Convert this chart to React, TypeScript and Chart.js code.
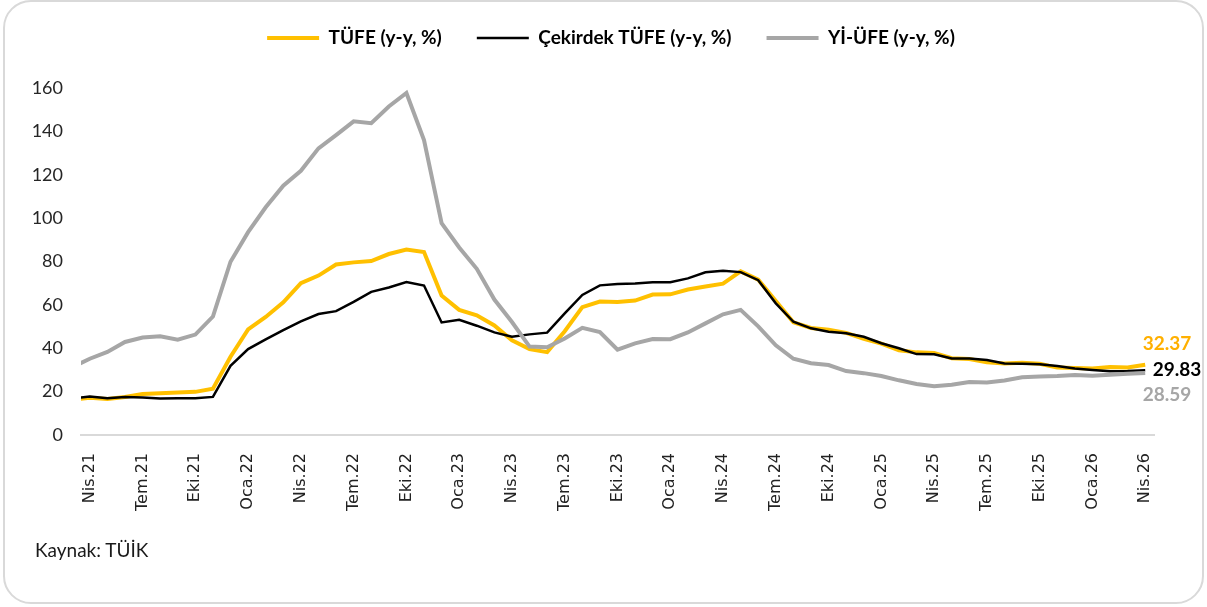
import React, { useEffect, useRef } from "react";
import { Chart, registerables } from "chart.js";

Chart.register(...registerables);

// Months (first entry Mar.21 is a lead-in point clipped at the left edge)
const months: string[] = [
  "Mar.21", "Nis.21", "May.21", "Haz.21", "Tem.21", "Ağu.21", "Eyl.21", "Eki.21", "Kas.21", "Ara.21",
  "Oca.22", "Şub.22", "Mar.22", "Nis.22", "May.22", "Haz.22", "Tem.22", "Ağu.22", "Eyl.22", "Eki.22", "Kas.22", "Ara.22",
  "Oca.23", "Şub.23", "Mar.23", "Nis.23", "May.23", "Haz.23", "Tem.23", "Ağu.23", "Eyl.23", "Eki.23", "Kas.23", "Ara.23",
  "Oca.24", "Şub.24", "Mar.24", "Nis.24", "May.24", "Haz.24", "Tem.24", "Ağu.24", "Eyl.24", "Eki.24", "Kas.24", "Ara.24",
  "Oca.25", "Şub.25", "Mar.25", "Nis.25", "May.25", "Haz.25", "Tem.25", "Ağu.25", "Eyl.25", "Eki.25", "Kas.25", "Ara.25",
  "Oca.26", "Şub.26", "Mar.26", "Nis.26",
];

const tickLabels: string[] = [
  "Nis.21", "Tem.21", "Eki.21", "Oca.22", "Nis.22", "Tem.22", "Eki.22", "Oca.23", "Nis.23", "Tem.23",
  "Eki.23", "Oca.24", "Nis.24", "Tem.24", "Eki.24", "Oca.25", "Nis.25", "Tem.25", "Eki.25", "Oca.26", "Nis.26",
];

const tufe: number[] = [
  16.19,
  17.14, 16.59, 17.53, 18.95, 19.25, 19.58, 19.89, 21.31, 36.08,
  48.69, 54.44, 61.14, 69.97, 73.5, 78.62, 79.6, 80.21, 83.45, 85.51, 84.39, 64.27,
  57.68, 55.18, 50.51, 43.68, 39.59, 38.21, 47.83, 58.94, 61.53, 61.36, 61.98, 64.77,
  64.86, 67.07, 68.5, 69.8, 75.45, 71.6, 61.78, 51.97, 49.38, 48.58, 47.09, 44.38,
  42.12, 39.05, 38.1, 37.86, 35.41, 35.05, 33.52, 32.95, 33.29, 32.87, 31.07, 30.89,
  30.65, 31.4, 31.1, 32.37,
];

const cekirdek: number[] = [
  16.8,
  17.8, 16.9, 17.5, 17.3, 16.8, 16.98, 16.9, 17.58, 31.88,
  39.6, 44.1, 48.4, 52.4, 55.8, 57.1, 61.4, 66.0, 68.0, 70.5, 68.9, 51.9,
  53.1, 50.4, 47.3, 45.3, 46.4, 47.2, 56.1, 64.6, 69.0, 69.6, 69.9, 70.4,
  70.4, 72.2, 75.0, 75.7, 75.1, 71.4, 60.7, 52.2, 49.2, 47.6, 46.9, 45.3,
  42.3, 40.0, 37.3, 37.2, 35.3, 35.3, 34.6, 33.0, 32.8, 32.6, 31.8, 30.7,
  30.0, 29.4, 29.5, 29.83,
];

const yiufe: number[] = [
  31.2,
  35.17, 38.33, 42.89, 44.92, 45.52, 43.96, 46.31, 54.62, 79.89,
  93.53, 105.01, 114.97, 121.82, 132.16, 138.31, 144.61, 143.75, 151.5, 157.69, 136.02, 97.72,
  86.46, 76.61, 62.45, 52.11, 40.76, 40.42, 44.5, 49.41, 47.44, 39.39, 42.25, 44.22,
  44.2, 47.29, 51.47, 55.66, 57.68, 50.09, 41.37, 35.17, 33.09, 32.24, 29.47, 28.52,
  27.2, 25.21, 23.5, 22.5, 23.13, 24.45, 24.19, 25.16, 26.59, 27.0, 27.23, 27.67,
  27.3, 27.8, 28.2, 28.59,
];

const seriesNames: string[] = ["TÜFE (y-y, %)", "Çekirdek TÜFE (y-y, %)", "Yİ-ÜFE (y-y, %)"];

const COLORS = { tufe: "#FFC000", cekirdek: "#000000", yiufe: "#A6A6A6" };
const LABEL_COLORS = ["#FFB000", "#000000", "#A6A6A6"];
const LABEL_OFFSETS = [
  { dx: -2.5, dy: -21 },
  { dx: 7.5, dy: 0 },
  { dx: -2.5, dy: 22 },
];

const toPoints = (vals: number[]) => vals.map((v, i) => ({ x: i - 1, y: v }));

const LEGEND_FONT = 19;
const LEGEND_PAD = 35;
const LEGEND_CENTER_Y = 38;
const PLOT_TOP = 88;
const PLOT_LEFT = 81;
const PLOT_RIGHT = 1154;

const endLabels = {
  id: "endLabels",
  afterDatasetsDraw(chart: any) {
    const ctx = chart.ctx;
    ctx.save();
    ctx.font = "bold 19px Lato";
    ctx.textAlign = "left";
    ctx.textBaseline = "middle";
    chart.data.datasets.forEach((ds: any, i: number) => {
      const meta = chart.getDatasetMeta(i);
      const pt = meta.data[meta.data.length - 1];
      const val = ds.data[ds.data.length - 1].y as number;
      ctx.fillStyle = LABEL_COLORS[i];
      ctx.fillText(val.toFixed(2), pt.x + LABEL_OFFSETS[i].dx, pt.y + LABEL_OFFSETS[i].dy);
    });
    ctx.restore();
  },
};

const legendPlace = {
  id: "legendPlace",
  beforeInit(chart: any) {
    const lg = chart.legend;
    if (!lg) return;
    const orig = lg.fit;
    lg.fit = function fit() {
      orig.call(this);
      // reserve space so that the plot area starts at PLOT_TOP
      this.height = PLOT_TOP;
    };
  },
  afterLayout(chart: any) {
    const lg = chart.legend;
    if (!lg) return;
    lg.left = 68;
    lg.right = PLOT_RIGHT;
    lg.top = LEGEND_CENTER_Y - LEGEND_PAD - LEGEND_FONT / 2;
  },
};

export default function App() {
  const ref = useRef<HTMLCanvasElement>(null);

  useEffect(() => {
    if (!ref.current) return;
    const chart = new Chart(ref.current, {
      type: "line",
      data: {
        datasets: [
          {
            label: seriesNames[0],
            data: toPoints(tufe),
            borderColor: COLORS.tufe,
            backgroundColor: COLORS.tufe,
            borderWidth: 4,
            pointRadius: 0,
            tension: 0,
            clip: 0,
            order: 3,
          },
          {
            label: seriesNames[1],
            data: toPoints(cekirdek),
            borderColor: COLORS.cekirdek,
            backgroundColor: COLORS.cekirdek,
            borderWidth: 2.5,
            pointRadius: 0,
            tension: 0,
            clip: 0,
            order: 2,
          },
          {
            label: seriesNames[2],
            data: toPoints(yiufe),
            borderColor: COLORS.yiufe,
            backgroundColor: COLORS.yiufe,
            borderWidth: 4,
            pointRadius: 0,
            tension: 0,
            clip: 0,
            order: 1,
          },
        ],
      } as any,
      plugins: [endLabels, legendPlace],
      options: {
        animation: false,
        responsive: false,
        devicePixelRatio: 1,
        events: [],
        layout: { padding: { left: 0, right: 1207 - PLOT_RIGHT, top: 0, bottom: 0 } },
        plugins: {
          tooltip: { enabled: false },
          legend: {
            display: true,
            position: "top",
            labels: {
              usePointStyle: true,
              pointStyle: "line",
              pointStyleWidth: 52,
              padding: LEGEND_PAD,
              color: "#000000",
              font: { family: "Lato", size: LEGEND_FONT, weight: "bold" },
              sort: (a: any, b: any) => a.datasetIndex - b.datasetIndex,
            },
          },
        },
        scales: {
          x: {
            type: "linear",
            min: -0.5,
            max: 60.5,
            grid: { display: false, drawTicks: false },
            border: { display: true, color: "#D9D9D9", width: 2 },
            afterBuildTicks: (scale: any) => {
              scale.ticks = tickLabels.map((_, k) => ({ value: k * 3 }));
            },
            afterFit: (scale: any) => {
              scale.height = 172;
            },
            ticks: {
              autoSkip: false,
              minRotation: 90,
              maxRotation: 90,
              padding: 18,
              color: "#222222",
              font: { family: "DejaVu Sans", size: 16 },
              callback: (v: any) => tickLabels[Math.round(Number(v) / 3)] ?? "",
            },
          },
          y: {
            min: 0,
            max: 160,
            grid: { display: false, drawTicks: false },
            border: { display: false },
            afterFit: (scale: any) => {
              scale.width = PLOT_LEFT;
            },
            ticks: {
              stepSize: 20,
              autoSkip: false,
              padding: 18,
              color: "#262626",
              font: { family: "Lato", size: 18 },
            },
          },
        },
      } as any,
    });
    return () => chart.destroy();
  }, []);

  return (
    <div style={{ position: "absolute", left: 0, top: 0, width: 1207, height: 607, background: "#ffffff", overflow: "hidden" }}>
      <div
        style={{
          position: "absolute",
          left: 3,
          top: 0,
          width: 1201,
          height: 604,
          boxSizing: "border-box",
          border: "2px solid #D9D9D9",
          borderRadius: 28,
        }}
      />
      <canvas ref={ref} width={1207} height={607} style={{ position: "absolute", left: 0, top: 0, width: 1207, height: 607 }} />
      <div style={{ position: "absolute", left: 35, top: 538, font: "19px Lato", color: "#1a1a1a", whiteSpace: "nowrap" }}>
        Kaynak: TÜİK
      </div>
    </div>
  );
}
